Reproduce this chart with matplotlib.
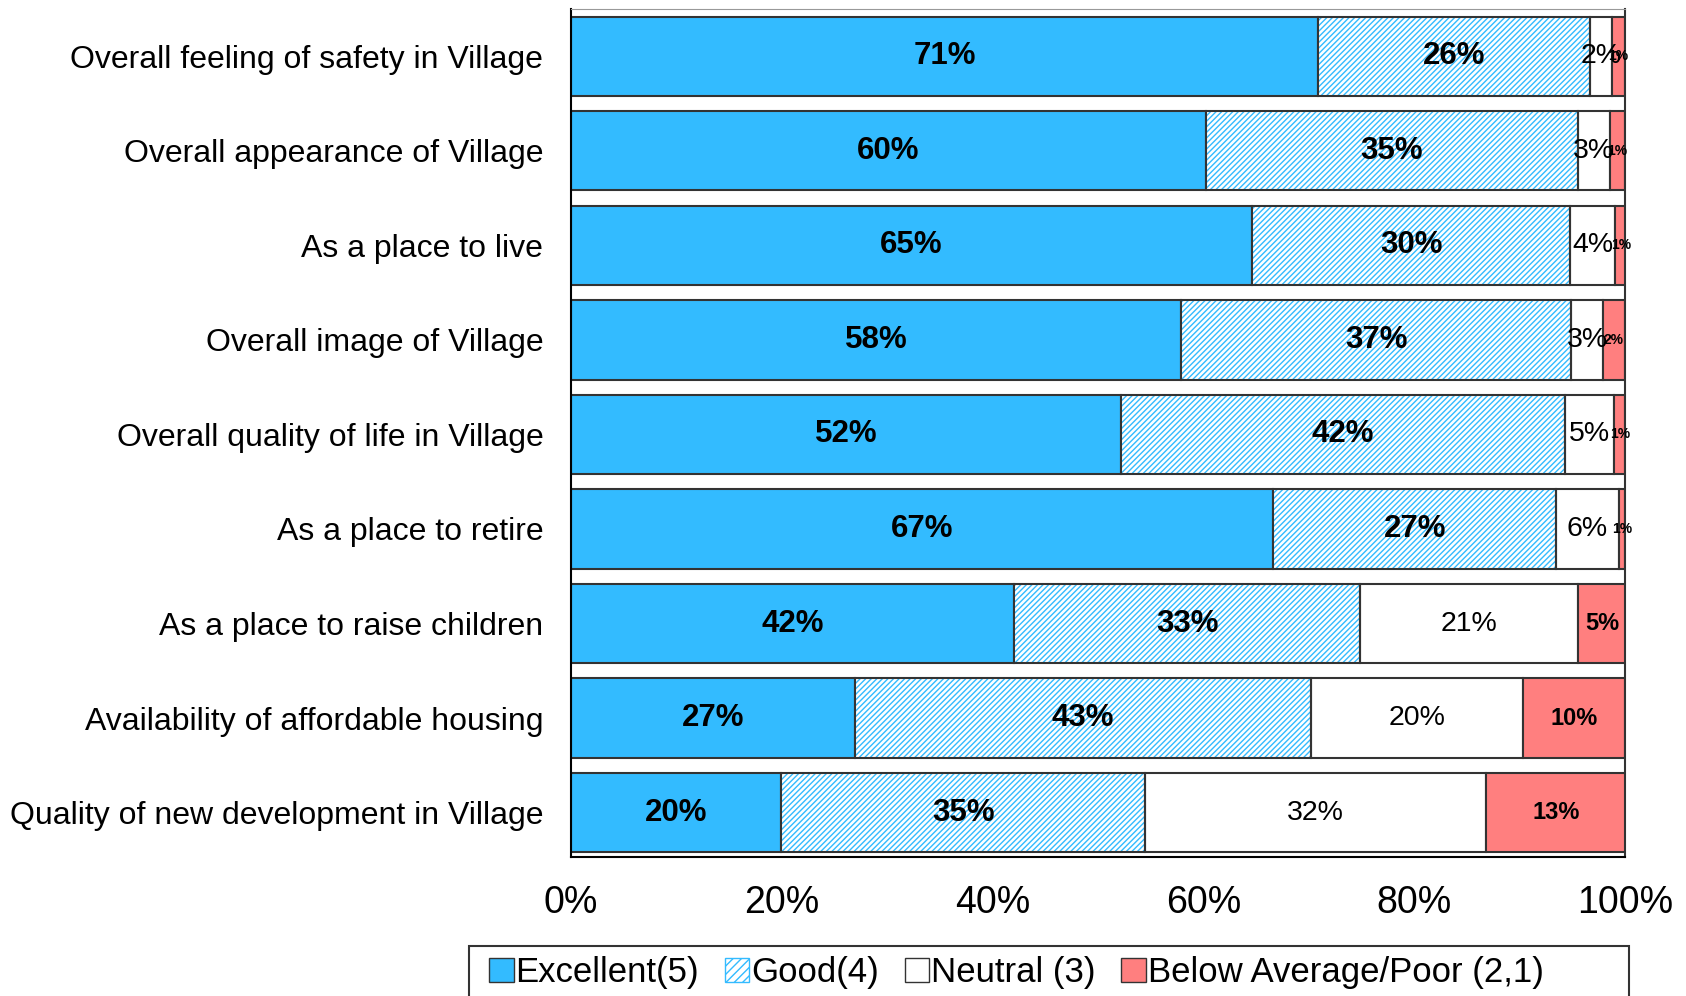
import numpy as np
import matplotlib
matplotlib.use('Agg')
import matplotlib.pyplot as plt
from matplotlib.patches import Patch, Rectangle

categories = ['Overall feeling of safety in Village',
              'Overall appearance of Village',
              'As a place to live',
              'Overall image of Village',
              'Overall quality of life in Village',
              'As a place to retire',
              'As a place to raise children',
              'Availability of affordable housing',
              'Quality of new development in Village']

# shares in % (labels are these rounded)
excellent = [70.9, 60.2, 64.6, 57.9, 52.2, 66.6, 42.0, 26.9, 19.9]
good = [25.8, 35.3, 30.2, 37.0, 42.1, 26.9, 32.9, 43.3, 34.6]
neutral = [2.1, 3.1, 4.3, 3.0, 4.7, 5.9, 20.6, 20.1, 32.3]
poor = [1.2, 1.4, 1.1, 2.1, 1.0, 0.6, 4.7, 9.7, 13.4]

series_names = ['Excellent(5)', 'Good(4)', 'Neutral (3)', 'Below Average/Poor (2,1)']
xticks = [0, 20, 40, 60, 80, 100]

blue = '#33BBFF'
red = '#FF7F7F'
edge = '#333333'

fig = plt.figure(figsize=(16.86, 9.96), dpi=100)
ax = fig.add_axes([0.3387, 0.1395, 0.6251, 0.8515])

y = np.arange(len(categories))
h = 0.84

e = np.array(excellent)
g = np.array(good)
n = np.array(neutral)
p = np.array(poor)

ax.barh(y, e, height=h, color=blue, edgecolor=edge, linewidth=1.5, zorder=2)
# hatched layer, then outline on top
ax.barh(y, g, left=e, height=h, color='white', edgecolor=blue, hatch='//////', linewidth=0, zorder=2)
ax.barh(y, g, left=e, height=h, fill=False, edgecolor=edge, linewidth=1.5, zorder=3)
ax.barh(y, n, left=e + g, height=h, color='white', edgecolor=edge, linewidth=1.5, zorder=2)
ax.barh(y, p, left=e + g + n, height=h, color=red, edgecolor=edge, linewidth=1.5, zorder=2)

for i in range(len(categories)):
    ax.text(e[i] / 2, y[i], f'{e[i]:.0f}%', ha='center', va='center',
            fontsize=22.5, fontweight='bold', family='Liberation Sans', zorder=5)
    ax.text(e[i] + g[i] / 2, y[i], f'{g[i]:.0f}%', ha='center', va='center',
            fontsize=22.5, fontweight='bold', family='Liberation Sans', zorder=5)
    ax.text(e[i] + g[i] + n[i] / 2, y[i], f'{n[i]:.0f}%', ha='center', va='center',
            fontsize=20.5, family='Liberation Sans', zorder=5)
    if p[i] >= 4:
        fs = 17
    else:
        fs = 10
    ax.text(e[i] + g[i] + n[i] + p[i] / 2, y[i], f'{p[i]:.0f}%', ha='center', va='center',
            fontsize=fs, fontweight='bold', family='Liberation Sans', zorder=5)

ax.set_xlim(0, 100)
ax.set_ylim(len(categories) - 0.53, -0.5)
ax.set_xticks(xticks)
ax.set_xticklabels([str(t) + '%' for t in xticks], fontsize=27, family='Liberation Sans')
ax.set_yticks(y)
ax.set_yticklabels(categories, fontsize=23, family='Liberation Sans')
ax.tick_params(axis='y', length=0, pad=20)
ax.tick_params(axis='x', length=0, pad=20)

ax.spines['left'].set_color('black')
ax.spines['left'].set_linewidth(1.5)
ax.spines['bottom'].set_color('black')
ax.spines['bottom'].set_linewidth(1.5)
ax.spines['top'].set_color('#999999')
ax.spines['right'].set_color('#333333')
ax.spines['right'].set_linewidth(1.5)

handles = [Patch(facecolor=blue, edgecolor=edge),
           Patch(facecolor='white', edgecolor=blue, hatch='////'),
           Patch(facecolor='white', edgecolor=edge),
           Patch(facecolor=red, edgecolor=edge)]
leg = fig.legend(handles, series_names, loc='upper left', bbox_to_anchor=(0.282, 0.054),
                 ncol=4, frameon=False, handlelength=0.7, handleheight=0.7,
                 handletextpad=0.05, columnspacing=0.75, borderaxespad=0,
                 prop={'family': 'Liberation Sans', 'size': 25})
fig.patches.append(Rectangle((0.2782, -0.02), 0.688, 0.070, transform=fig.transFigure,
                             fill=False, edgecolor='#333333', linewidth=1.5))

fig.savefig('out.png', dpi=100)
